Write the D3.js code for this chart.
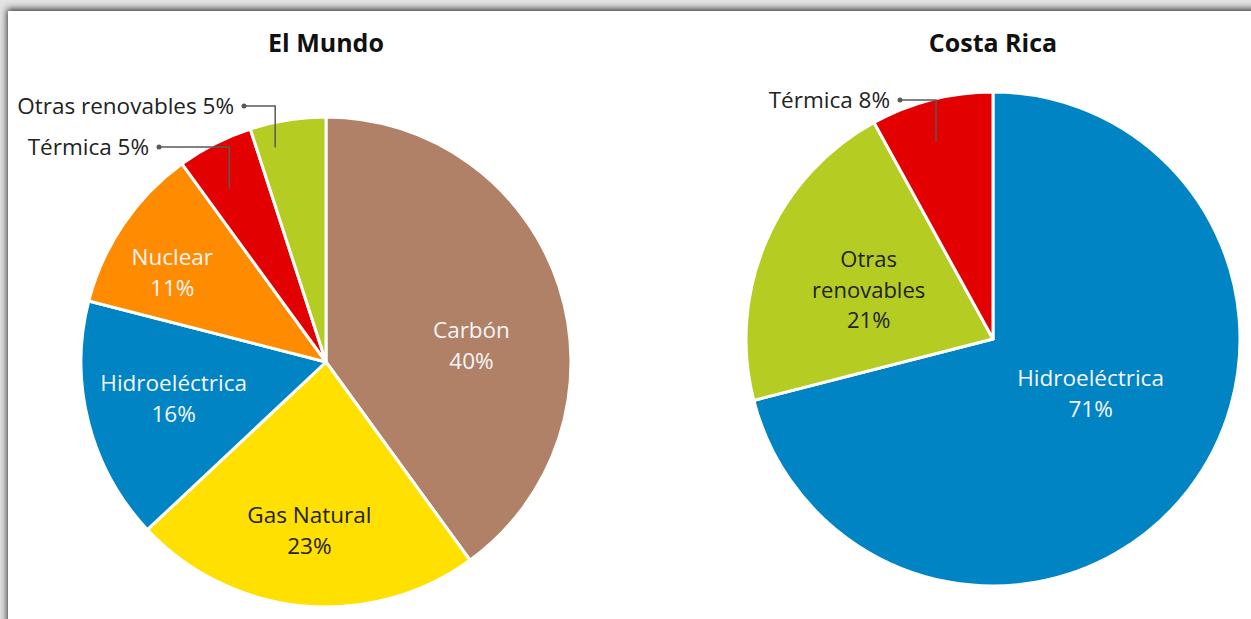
<!DOCTYPE html>
<html>
<head>
<meta charset="utf-8">
<script src="https://cdn.jsdelivr.net/npm/d3@7"></script>
<style>
  html, body { margin: 0; padding: 0; background: #fff; }
  svg { display: block; }
  text { font-family: "Open Sans", sans-serif; }
</style>
</head>
<body>
<div id="chart"></div>
<script>
// data
var mundoCats = ['Carbón', 'Gas Natural', 'Hidroeléctrica', 'Nuclear', 'Térmica', 'Otras renovables'];
var mundoVals = [40, 23, 16, 11, 5, 5];
var crCats = ['Hidroeléctrica', 'Otras renovables', 'Térmica'];
var crVals = [71, 21, 8];

var colors = {
  'Carbón': '#b08166',
  'Gas Natural': '#ffe000',
  'Hidroeléctrica': '#0084c4',
  'Nuclear': '#ff8c00',
  'Térmica': '#e30000',
  'Otras renovables': '#b5cd23'
};
var lightText = { 'Carbón': 1, 'Hidroeléctrica': 1, 'Nuclear': 1 };

var W = 1251, H = 619;

var svg = d3.select('#chart').append('svg')
  .attr('width', W)
  .attr('height', H);

// frame with shadow
var defs = svg.append('defs');
var f = defs.append('filter').attr('id', 'shadow')
  .attr('x', '-5%').attr('y', '-5%').attr('width', '110%').attr('height', '110%');
f.append('feDropShadow')
  .attr('dx', -1).attr('dy', -2)
  .attr('stdDeviation', 3.5)
  .attr('flood-color', '#333')
  .attr('flood-opacity', 1);

svg.append('rect').attr('width', W).attr('height', H).attr('fill', '#e4e4e4');
svg.append('rect')
  .attr('x', 8).attr('y', 11)
  .attr('width', W + 20).attr('height', H + 20)
  .attr('fill', '#fff')
  .attr('filter', 'url(#shadow)');

// label layout (in-pie nudges and outside leader labels), relative to pie center
var charts = [
  {
    title: 'El Mundo', cats: mundoCats, vals: mundoVals,
    cx: 326, cy: 362, r: 245, labelR: 0.68,
    nudge: { 'Carbón': [-13, 35], 'Gas Natural': [-1, 3], 'Hidroeléctrica': [9, -5], 'Nuclear': [-16, 4] },
    lines: { 'Gas Natural': ['Gas Natural'], 'Hidroeléctrica': ['Hidroeléctrica'] },
    outside: {
      'Térmica': { start: 0.81, along: 0.38, dot: [-167, -215] },
      'Otras renovables': { start: 0.9, along: 0.26, dot: [-82, -256] }
    }
  },
  {
    title: 'Costa Rica', cats: crCats, vals: crVals,
    cx: 993, cy: 339, r: 247, labelR: 0.5,
    nudge: { 'Hidroeléctrica': [0, -21], 'Otras renovables': [-11, 0] },
    lines: { 'Otras renovables': ['Otras', 'renovables'] },
    outside: {
      'Térmica': { start: 0.83, along: 0.44, dot: [-93, -239] }
    }
  }
];

charts.forEach(function(c) {
  var data = c.cats.map(function(name, i) { return { name: name, value: c.vals[i] }; });

  var pie = d3.pie()
    .sort(null)
    .value(function(d) { return d.value; });

  var arc = d3.arc().innerRadius(0).outerRadius(c.r);
  var labelArc = d3.arc().innerRadius(c.r * c.labelR).outerRadius(c.r * c.labelR);

  var g = svg.append('g').attr('transform', 'translate(' + c.cx + ',' + c.cy + ')');
  var arcs = pie(data);

  g.selectAll('path.slice')
    .data(arcs)
    .enter().append('path')
    .attr('class', 'slice')
    .attr('d', arc)
    .attr('fill', function(d) { return colors[d.data.name]; })
    .attr('stroke', '#fff')
    .attr('stroke-width', 3)
    .attr('stroke-linejoin', 'round');

  // title
  svg.append('text')
    .attr('x', c.cx)
    .attr('y', 52)
    .attr('text-anchor', 'middle')
    .attr('font-size', 25)
    .attr('font-weight', 'bold')
    .attr('fill', '#111')
    .text(c.title);

  // in-pie labels
  arcs.forEach(function(d) {
    var name = d.data.name;
    if (c.outside[name]) return;
    var p = labelArc.centroid(d);
    var n = c.nudge[name] || [0, 0];
    var lines = (c.lines[name] || [name]).concat([d.data.value + '%']);
    var three = lines.length > 2;
    var lh = three ? 30.5 : 31;
    var y0 = p[1] + n[1] - (lines.length - 1) * lh / 2;
    var t = g.append('text')
      .attr('text-anchor', 'middle')
      .attr('font-size', three ? 22 : 22.5)
      .attr('fill', lightText[name] ? '#f6f6fa' : '#222');
    lines.forEach(function(s, i) {
      t.append('tspan')
        .attr('x', p[0] + n[0])
        .attr('y', y0 + i * lh)
        .attr('dy', '0.35em')
        .text(s);
    });
  });

  // outside labels with leader lines
  arcs.forEach(function(d) {
    var name = d.data.name;
    var o = c.outside[name];
    if (!o) return;
    var a = d.startAngle + (d.endAngle - d.startAngle) * o.along;
    var s = [Math.sin(a) * c.r * o.start, -Math.cos(a) * c.r * o.start];
    g.append('path')
      .attr('d', d3.line()([s, [s[0], o.dot[1]], o.dot]))
      .attr('fill', 'none')
      .attr('stroke', '#595959')
      .attr('stroke-width', 1.5);
    g.append('circle')
      .attr('cx', o.dot[0]).attr('cy', o.dot[1])
      .attr('r', 2.5)
      .attr('fill', '#595959');
    g.append('text')
      .attr('x', o.dot[0] - 10)
      .attr('y', o.dot[1])
      .attr('dy', '0.35em')
      .attr('text-anchor', 'end')
      .attr('font-size', 22.5)
      .attr('fill', '#222')
      .text(name + ' ' + d.data.value + '%');
  });
});
</script>
</body>
</html>
